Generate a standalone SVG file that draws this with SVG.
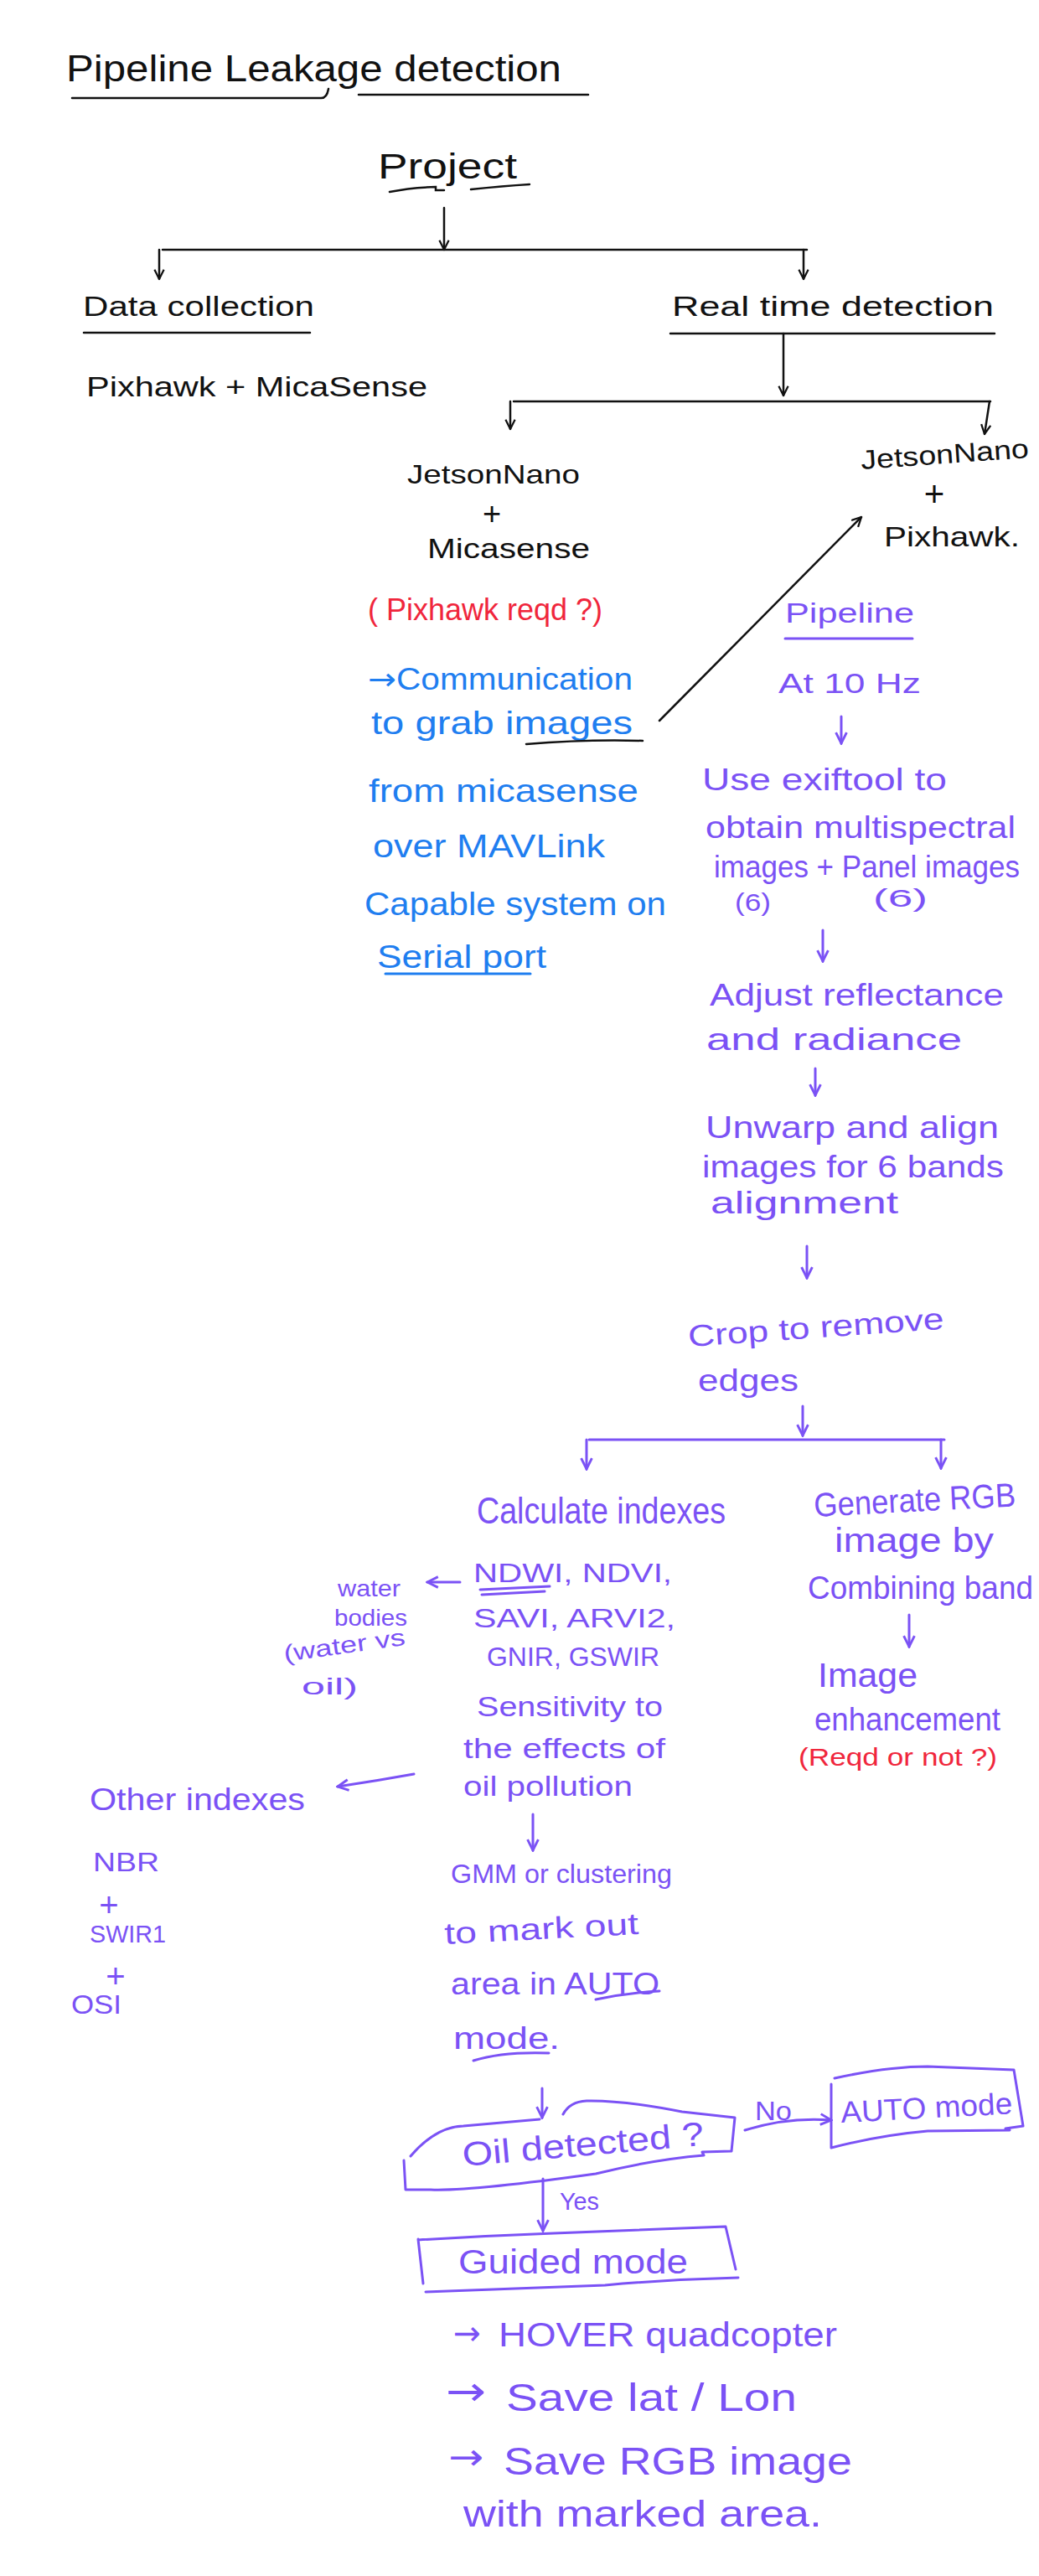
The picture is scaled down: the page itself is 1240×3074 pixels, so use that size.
<svg xmlns="http://www.w3.org/2000/svg" width="1240" height="3074" viewBox="0 0 1240 3074">
<style>
text{font-family:"Liberation Sans",Arial,sans-serif;}
.ar{font-family:"DejaVu Sans",sans-serif;}
.k{fill:#111;}
.b{fill:#1f7ef0;}
.p{fill:#7b52f5;}
.r{fill:#f0263c;}
.lk{stroke:#111;stroke-width:2.5;fill:none;stroke-linecap:round;}
.lp{stroke:#7b52f5;stroke-width:3;fill:none;stroke-linecap:round;stroke-linejoin:round;}
.lb{stroke:#1f7ef0;stroke-width:3;fill:none;stroke-linecap:round;}
</style>
<defs>
<marker id="ak" viewBox="0 0 10 10" refX="9" refY="5" markerWidth="14" markerHeight="14" markerUnits="userSpaceOnUse" orient="auto">
<path d="M1,1 L9,5 L1,9" fill="none" stroke="#111" stroke-width="1.6"/>
</marker>
<marker id="ap" viewBox="0 0 10 10" refX="9" refY="5" markerWidth="16" markerHeight="16" markerUnits="userSpaceOnUse" orient="auto">
<path d="M1,1 L9,5 L1,9" fill="none" stroke="#7b52f5" stroke-width="1.8"/>
</marker>
</defs>
<rect width="1240" height="3074" fill="#fff"/>

<g id="connectors">
<path class="lk" d="M530,248 V298" marker-end="url(#ak)"/>
<path class="lk" d="M194,298 H963"/>
<path class="lk" d="M190,298 V333" marker-end="url(#ak)"/>
<path class="lk" d="M959,298 V333" marker-end="url(#ak)"/>
<path class="lk" d="M935,398 V472" marker-end="url(#ak)"/>
<path class="lk" d="M613,479 H1182"/>
<path class="lk" d="M609,479 V512" marker-end="url(#ak)"/>
<path class="lk" d="M1181,479 L1175,518" marker-end="url(#ak)"/>
<path class="lk" d="M787,860 L1028,617" marker-end="url(#ak)"/>
<path class="lp" d="M1004,855 V887" marker-end="url(#ap)"/>
<path class="lp" d="M982,1110 V1147" marker-end="url(#ap)"/>
<path class="lp" d="M973,1275 V1307" marker-end="url(#ap)"/>
<path class="lp" d="M963,1487 V1525" marker-end="url(#ap)"/>
<path class="lp" d="M958,1678 V1713" marker-end="url(#ap)"/>
<path class="lp" d="M703,1718 H1127"/>
<path class="lp" d="M700,1718 V1753" marker-end="url(#ap)"/>
<path class="lp" d="M1123,1718 V1752" marker-end="url(#ap)"/>
<path class="lp" d="M1085,1927 V1965" marker-end="url(#ap)"/>
<path class="lp" d="M549,1888 H510" marker-end="url(#ap)"/>
<path class="lp" d="M494,2117 Q450,2125 403,2132" marker-end="url(#ap)"/>
<path class="lp" d="M636,2165 V2208" marker-end="url(#ap)"/>
<path class="lp" d="M647,2492 V2527" marker-end="url(#ap)"/>
<path class="lp" d="M889,2542 Q940,2526 992,2530" marker-end="url(#ap)"/>
<path class="lp" d="M648,2600 V2662" marker-end="url(#ap)"/>
</g>

<g id="title">
<text class="k" x="79" y="97" font-size="44" textLength="591" lengthAdjust="spacingAndGlyphs">Pipeline Leakage detection</text>
<path class="lk" d="M86,117 H382 Q390,118 392,106 M428,113 H702"/>
</g>

<g id="project">
<text class="k" x="451" y="213" font-size="42" textLength="166" lengthAdjust="spacingAndGlyphs">Project</text>
<path class="lk" d="M465,229 Q490,224 520,223 V227 H530 M562,226 Q600,222 632,220"/>
</g>

<g id="data-collection">
<text class="k" x="99" y="377" font-size="34" textLength="276" lengthAdjust="spacingAndGlyphs">Data collection</text>
<path class="lk" d="M100,397 H370"/>
<text class="k" x="103" y="473" font-size="34" textLength="407" lengthAdjust="spacingAndGlyphs">Pixhawk + MicaSense</text>
</g>

<g id="real-time-detection">
<text class="k" x="802" y="377" font-size="34" textLength="384" lengthAdjust="spacingAndGlyphs">Real time detection</text>
<path class="lk" d="M800,398 H1187"/>
</g>

<g id="jetson-micasense">
<text class="k" x="486" y="577" font-size="32" textLength="206" lengthAdjust="spacingAndGlyphs">JetsonNano</text>
<text class="k" x="587" y="626" font-size="38" text-anchor="middle">+</text>
<text class="k" x="510" y="666" font-size="34" textLength="194" lengthAdjust="spacingAndGlyphs">Micasense</text>
<text class="r" x="439" y="740" font-size="36" textLength="280" lengthAdjust="spacingAndGlyphs">( Pixhawk reqd ?)</text>
<text class="b" x="439" y="823" font-size="36" textLength="316" lengthAdjust="spacingAndGlyphs"><tspan class="ar">→</tspan>Communication</text>
<text class="b" x="443" y="876" font-size="38" textLength="312" lengthAdjust="spacingAndGlyphs">to grab images</text>
<path class="lk" d="M628,888 Q700,882 767,884" stroke-width="3.5"/>
<text class="b" x="440" y="957" font-size="38" textLength="322" lengthAdjust="spacingAndGlyphs">from micasense</text>
<text class="b" x="445" y="1023" font-size="38" textLength="277" lengthAdjust="spacingAndGlyphs">over MAVLink</text>
<text class="b" x="435" y="1092" font-size="38" textLength="360" lengthAdjust="spacingAndGlyphs">Capable system on</text>
<text class="b" x="450" y="1155" font-size="38" textLength="202" lengthAdjust="spacingAndGlyphs">Serial port</text>
<path class="lb" d="M460,1162 H633"/>
</g>

<g id="jetson-pixhawk">
<text class="k" x="1028" y="560" font-size="32" textLength="201" lengthAdjust="spacingAndGlyphs" transform="rotate(-4 1028 560)">JetsonNano</text>
<text class="k" x="1115" y="604" font-size="42" text-anchor="middle">+</text>
<text class="k" x="1055" y="652" font-size="34" textLength="162" lengthAdjust="spacingAndGlyphs">Pixhawk.</text>
</g>

<g id="pipeline">
<text class="p" x="937" y="743" font-size="34" textLength="154" lengthAdjust="spacingAndGlyphs">Pipeline</text>
<path class="lp" d="M937,762 H1089"/>
<text class="p" x="929" y="827" font-size="34" textLength="170" lengthAdjust="spacingAndGlyphs">At 10 Hz</text>
</g>

<g id="exiftool">
<text class="p" x="838" y="943" font-size="36" textLength="292" lengthAdjust="spacingAndGlyphs">Use exiftool to</text>
<text class="p" x="842" y="1000" font-size="36" textLength="370" lengthAdjust="spacingAndGlyphs">obtain multispectral</text>
<text class="p" x="852" y="1047" font-size="36" textLength="365" lengthAdjust="spacingAndGlyphs">images + Panel images</text>
<text class="p" x="877" y="1087" font-size="30" textLength="43" lengthAdjust="spacingAndGlyphs">(6)</text>
<text class="p" x="1042" y="1082" font-size="30" textLength="65" lengthAdjust="spacingAndGlyphs">(6)</text>
</g>

<g id="adjust">
<text class="p" x="847" y="1200" font-size="36" textLength="351" lengthAdjust="spacingAndGlyphs">Adjust reflectance</text>
<text class="p" x="843" y="1253" font-size="36" textLength="305" lengthAdjust="spacingAndGlyphs">and radiance</text>
</g>

<g id="unwarp">
<text class="p" x="842" y="1358" font-size="36" textLength="350" lengthAdjust="spacingAndGlyphs">Unwarp and align</text>
<text class="p" x="838" y="1405" font-size="36" textLength="360" lengthAdjust="spacingAndGlyphs">images for 6 bands</text>
<text class="p" x="848" y="1448" font-size="36" textLength="224" lengthAdjust="spacingAndGlyphs">alignment</text>
</g>

<g id="crop">
<text class="p" x="822" y="1607" font-size="36" textLength="306" lengthAdjust="spacingAndGlyphs" transform="rotate(-4 822 1607)">Crop to remove</text>
<text class="p" x="833" y="1660" font-size="36" textLength="120" lengthAdjust="spacingAndGlyphs">edges</text>
</g>

<g id="calculate-indexes">
<text class="p" x="569" y="1818" font-size="44" textLength="297" lengthAdjust="spacingAndGlyphs">Calculate indexes</text>
<text class="p" x="565" y="1888" font-size="32" textLength="237" lengthAdjust="spacingAndGlyphs">NDWI, NDVI,</text>
<path class="lp" d="M573,1897 L656,1893 M575,1903 L650,1899"/>
<text class="p" x="565" y="1942" font-size="32" textLength="241" lengthAdjust="spacingAndGlyphs">SAVI, ARVI2,</text>
<text class="p" x="581" y="1988" font-size="32" textLength="206" lengthAdjust="spacingAndGlyphs">GNIR, GSWIR</text>
<text class="p" x="569" y="2048" font-size="34" textLength="222" lengthAdjust="spacingAndGlyphs">Sensitivity to</text>
<text class="p" x="553" y="2098" font-size="34" textLength="241" lengthAdjust="spacingAndGlyphs">the effects of</text>
<text class="p" x="553" y="2143" font-size="34" textLength="202" lengthAdjust="spacingAndGlyphs">oil pollution</text>
</g>

<g id="water-bodies">
<text class="p" x="403" y="1905" font-size="28" textLength="75" lengthAdjust="spacingAndGlyphs">water</text>
<text class="p" x="399" y="1940" font-size="28" textLength="87" lengthAdjust="spacingAndGlyphs">bodies</text>
<text class="p" x="340" y="1983" font-size="28" textLength="146" lengthAdjust="spacingAndGlyphs" transform="rotate(-8 340 1983)">(water vs</text>
<text class="p" x="360" y="2022" font-size="28" textLength="67" lengthAdjust="spacingAndGlyphs">oil)</text>
</g>

<g id="other-indexes">
<text class="p" x="107" y="2160" font-size="36" textLength="257" lengthAdjust="spacingAndGlyphs">Other indexes</text>
<text class="p" x="111" y="2233" font-size="32" textLength="79" lengthAdjust="spacingAndGlyphs">NBR</text>
<text class="p" x="130" y="2287" font-size="40" text-anchor="middle">+</text>
<text class="p" x="107" y="2318" font-size="30" textLength="91" lengthAdjust="spacingAndGlyphs">SWIR1</text>
<text class="p" x="138" y="2372" font-size="40" text-anchor="middle">+</text>
<text class="p" x="85" y="2403" font-size="32" textLength="60" lengthAdjust="spacingAndGlyphs">OSI</text>
</g>

<g id="generate-rgb">
<text class="p" x="972" y="1810" font-size="40" textLength="241" lengthAdjust="spacingAndGlyphs" transform="rotate(-3 972 1810)">Generate RGB</text>
<text class="p" x="996" y="1852" font-size="40" textLength="190" lengthAdjust="spacingAndGlyphs">image by</text>
<text class="p" x="964" y="1908" font-size="38" textLength="269" lengthAdjust="spacingAndGlyphs">Combining band</text>
</g>

<g id="image-enhancement">
<text class="p" x="976" y="2013" font-size="40" textLength="119" lengthAdjust="spacingAndGlyphs">Image</text>
<text class="p" x="972" y="2065" font-size="38" textLength="222" lengthAdjust="spacingAndGlyphs">enhancement</text>
<text class="r" x="953" y="2107" font-size="30" textLength="237" lengthAdjust="spacingAndGlyphs">(Reqd or not ?)</text>
</g>

<g id="gmm">
<text class="p" x="538" y="2247" font-size="32" textLength="264" lengthAdjust="spacingAndGlyphs">GMM or clustering</text>
<text class="p" x="531" y="2320" font-size="36" textLength="232" lengthAdjust="spacingAndGlyphs" transform="rotate(-3 531 2320)">to mark out</text>
<text class="p" x="538" y="2380" font-size="36" textLength="249" lengthAdjust="spacingAndGlyphs">area in AUTO</text>
<path class="lp" d="M711,2386 Q750,2378 787,2376"/>
<text class="p" x="541" y="2445" font-size="36" textLength="127" lengthAdjust="spacingAndGlyphs">mode.</text>
<path class="lp" d="M565,2459 Q600,2448 655,2450"/>
</g>

<g id="oil-detected">
<path class="lp" d="M490,2573 Q520,2538 553,2537 L644,2529 M672,2523 Q680,2508 700,2507 Q743,2506 814,2520 L877,2527 L873,2567 L838,2568 L840,2572 Q780,2577 711,2594 Q560,2615 514,2613 L484,2613 L482,2578"/>
<text class="p" x="553" y="2585" font-size="40" textLength="289" lengthAdjust="spacingAndGlyphs" transform="rotate(-5 553 2585)">Oil detected ?</text>
<text class="p" x="901" y="2530" font-size="32" textLength="44" lengthAdjust="spacingAndGlyphs">No</text>
<text class="p" x="668" y="2637" font-size="30" textLength="47" lengthAdjust="spacingAndGlyphs">Yes</text>
</g>

<g id="auto-mode">
<path class="lp" d="M996,2480 Q1060,2466 1107,2466 L1210,2470 L1221,2537 L1200,2540 M1205,2542 L1107,2543 Q1050,2548 992,2563 L992,2487"/>
<text class="p" x="1004" y="2533" font-size="36" textLength="205" lengthAdjust="spacingAndGlyphs" transform="rotate(-3 1004 2533)">AUTO mode</text>
</g>

<g id="guided-mode">
<path class="lp" d="M499,2673 Q580,2668 661,2665 L866,2657 L878,2708 M881,2718 Q800,2720 722,2727 L508,2735 M499,2672 L505,2725"/>
<text class="p" x="547" y="2713" font-size="40" textLength="274" lengthAdjust="spacingAndGlyphs">Guided mode</text>
</g>

<g id="actions">
<text class="p ar" x="541" y="2798" font-size="40" textLength="33" lengthAdjust="spacingAndGlyphs">→</text>
<text class="p" x="595" y="2800" font-size="40" textLength="404" lengthAdjust="spacingAndGlyphs">HOVER quadcopter</text>
<text class="p ar" x="532" y="2870" font-size="48" textLength="48" lengthAdjust="spacingAndGlyphs">→</text>
<text class="p" x="604" y="2877" font-size="46" textLength="347" lengthAdjust="spacingAndGlyphs">Save lat / Lon</text>
<text class="p ar" x="535" y="2947" font-size="44" textLength="42" lengthAdjust="spacingAndGlyphs">→</text>
<text class="p" x="601" y="2953" font-size="46" textLength="416" lengthAdjust="spacingAndGlyphs">Save RGB image</text>
<text class="p" x="553" y="3015" font-size="44" textLength="428" lengthAdjust="spacingAndGlyphs">with marked area.</text>
</g>
</svg>
